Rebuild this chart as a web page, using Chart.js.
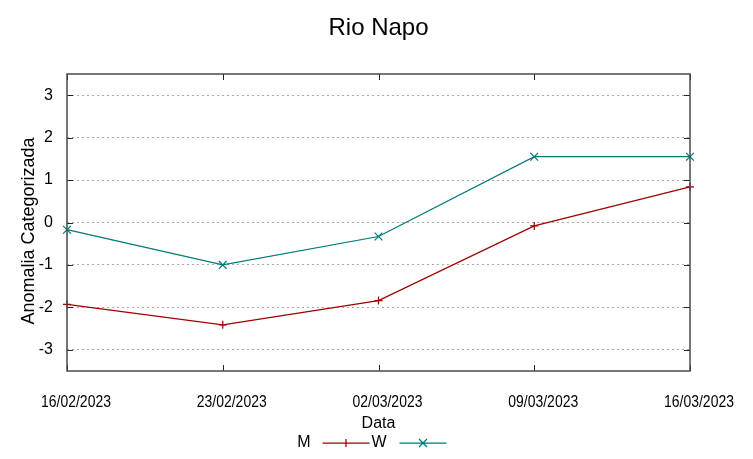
<!DOCTYPE html>
<html>
<head>
<meta charset="utf-8">
<title>Rio Napo</title>
<script src="https://cdn.jsdelivr.net/npm/chart.js@4.4.1/dist/chart.umd.min.js"></script>
<style>
    body { margin: 0; background: #fff; }
    #wrap { width: 753px; height: 459px; }
</style>
</head>
<body>
<div id="wrap"><canvas id="napoChart" width="753" height="459"></canvas></div>
<script>
// ── Data ──
const dates = ['16/02/2023', '23/02/2023', '02/03/2023', '09/03/2023', '16/03/2023'];
const seriesM = [-1.93, -2.41, -1.84, -0.08, 0.84];
const seriesW = [-0.17, -1.0, -0.33, 1.55, 1.55];
const yTickValues = [-3, -2, -1, 0, 1, 2, 3];

const chartTitle = 'Rio Napo';
const yTitle = 'Anomalia Categorizada';

const colorM = '#9e0000';
const colorW = '#007a7a';
const sansFont = "'Liberation Sans', Arial, sans-serif";

// ── Title, y title, condensed date labels, frame, inward ticks, legend ──
const gnuplotLook = {
    id: 'gnuplotLook',
    afterDraw(chart) {
        const ctx = chart.ctx;
        const a = chart.chartArea;
        const xs = chart.scales.x;
        const ys = chart.scales.y;
        const tick = 6;

        ctx.save();
        ctx.fillStyle = '#000';
        ctx.textBaseline = 'middle';
        ctx.textAlign = 'center';

        // chart title, centred over the plot area
        ctx.font = '24px ' + sansFont;
        ctx.fillText(chartTitle, (a.left + a.right) / 2, 28);

        // y axis title
        ctx.save();
        ctx.translate(29, 231);
        ctx.rotate(-Math.PI / 2);
        ctx.font = '18px ' + sansFont;
        ctx.fillText(yTitle, 0, 0);
        ctx.restore();

        // date labels (narrow, shifted a bit right like gnuplot)
        ctx.font = '17px ' + sansFont;
        xs.ticks.forEach((t, i) => {
            ctx.save();
            ctx.translate(xs.getPixelForTick(i) + 9, 402);
            ctx.scale(0.82, 1);
            ctx.fillText(xs.getLabelForValue(t.value), 0, 0);
            ctx.restore();
        });

        // inward tick marks
        ctx.strokeStyle = '#222';
        ctx.lineWidth = 1;
        ctx.beginPath();
        xs.ticks.forEach((t, i) => {
            const px = Math.round(xs.getPixelForTick(i)) + 0.5;
            ctx.moveTo(px, a.bottom); ctx.lineTo(px, a.bottom - tick);
            ctx.moveTo(px, a.top); ctx.lineTo(px, a.top + tick);
        });
        ys.ticks.forEach(t => {
            const py = Math.round(ys.getPixelForValue(t.value)) + 0.5;
            ctx.moveTo(a.left, py); ctx.lineTo(a.left + tick, py);
            ctx.moveTo(a.right, py); ctx.lineTo(a.right - tick, py);
        });
        ctx.stroke();

        // frame
        ctx.strokeStyle = '#4a4a4a';
        ctx.lineWidth = 1.5;
        ctx.strokeRect(Math.round(a.left), Math.round(a.top), Math.round(a.right - a.left), Math.round(a.bottom - a.top));

        // legend: label then sample line with marker
        const ly = 443;
        const cx = (a.left + a.right) / 2;
        const items = [
            { ds: chart.data.datasets[0], textRight: cx - 68, x0: cx - 56, x1: cx - 9, r: 4, rot: false },
            { ds: chart.data.datasets[1], textRight: cx + 8, x0: cx + 21, x1: cx + 68, r: 4, rot: true }
        ];
        ctx.font = '16px ' + sansFont;
        ctx.textAlign = 'right';
        items.forEach(it => {
            ctx.fillStyle = '#000';
            ctx.fillText(it.ds.label, it.textRight, ly);
            ctx.strokeStyle = it.ds.borderColor;
            ctx.lineWidth = 1.25;
            ctx.beginPath();
            ctx.moveTo(it.x0, ly); ctx.lineTo(it.x1, ly);
            const mx = (it.x0 + it.x1) / 2;
            if (it.rot) {
                ctx.moveTo(mx - it.r, ly - it.r); ctx.lineTo(mx + it.r, ly + it.r);
                ctx.moveTo(mx - it.r, ly + it.r); ctx.lineTo(mx + it.r, ly - it.r);
            } else {
                ctx.moveTo(mx, ly - it.r); ctx.lineTo(mx, ly + it.r);
            }
            ctx.stroke();
        });
        ctx.restore();
    }
};

// ── Chart ──
new Chart(document.getElementById('napoChart'), {
    type: 'line',
    data: {
        labels: dates,
        datasets: [{
            label: 'M',
            data: seriesM,
            borderColor: colorM,
            backgroundColor: colorM,
            borderWidth: 1.25,
            pointStyle: 'cross',
            pointRadius: 4,
            pointBorderWidth: 1.25,
            tension: 0,
            clip: false
        }, {
            label: 'W',
            data: seriesW,
            borderColor: colorW,
            backgroundColor: colorW,
            borderWidth: 1.25,
            pointStyle: 'crossRot',
            pointRadius: 5.5,
            pointBorderWidth: 1.25,
            tension: 0,
            clip: false
        }]
    },
    options: {
        responsive: false,
        animation: false,
        layout: { padding: { top: 74, right: 63, bottom: 0, left: 0 } },
        plugins: {
            legend: { display: false },
            tooltip: { enabled: false },
            title: { display: false }
        },
        scales: {
            x: {
                type: 'category',
                offset: false,
                grid: { display: false, drawTicks: false },
                border: { display: false },
                ticks: { display: false, autoSkip: false },
                title: {
                    display: true,
                    text: 'Data',
                    color: '#000',
                    font: { family: sansFont, size: 16 },
                    padding: { top: 0, bottom: 26 }
                },
                afterFit: function (scale) { scale.height = 88; }
            },
            y: {
                min: -3.5,
                max: 3.5,
                grid: {
                    color: '#a8a8a8',
                    lineWidth: 1,
                    drawTicks: false
                },
                border: { display: false, dash: [2, 3] },
                ticks: {
                    color: '#000',
                    font: { family: sansFont, size: 16 },
                    padding: 14
                },
                afterBuildTicks: function (scale) {
                    scale.ticks = yTickValues.map(v => ({ value: v }));
                },
                afterFit: function (scale) { scale.width = 67; }
            }
        }
    },
    plugins: [gnuplotLook]
});
</script>
</body>
</html>
